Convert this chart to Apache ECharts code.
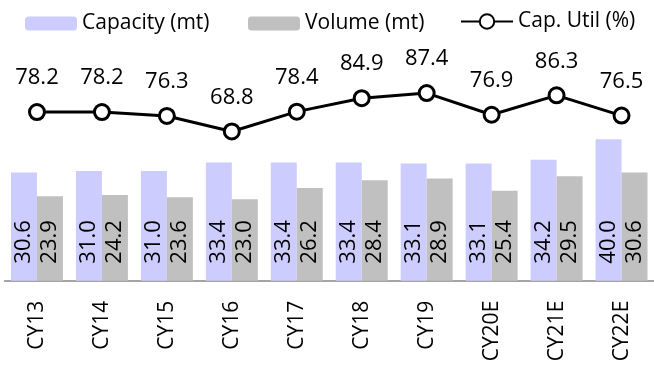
<!DOCTYPE html>
<html>
<head>
<meta charset="utf-8">
<script src="https://cdn.jsdelivr.net/npm/echarts@6/dist/echarts.min.js"></script>
<style>
  html, body { margin: 0; padding: 0; background: #fff; }
  #chart { width: 654px; height: 367px; }
</style>
</head>
<body>
<div id="chart"></div>
<script>
// Annual capacity, volume and utilisation
const years = ['CY13', 'CY14', 'CY15', 'CY16', 'CY17', 'CY18', 'CY19', 'CY20E', 'CY21E', 'CY22E'];
const capacity = [30.6, 31.0, 31.0, 33.4, 33.4, 33.4, 33.1, 33.1, 34.2, 40.0];
const volume = [23.9, 24.2, 23.6, 23.0, 26.2, 28.4, 28.9, 25.4, 29.5, 30.6];
const capUtil = [78.2, 78.2, 76.3, 68.8, 78.4, 84.9, 87.4, 76.9, 86.3, 76.5];

const FONT = '"Open Sans", "Noto Sans", sans-serif';
const chart = echarts.init(document.getElementById('chart'));

const barLabel = {
  show: true,
  position: 'insideBottom',
  rotate: 90,
  align: 'left',
  verticalAlign: 'middle',
  distance: 17,
  color: '#000',
  fontFamily: FONT,
  fontSize: 22,
  formatter: p => p.value.toFixed(1)
};

const legendText = { color: '#000', fontFamily: FONT, fontSize: 21 };
const legendBase = { padding: 0, itemWidth: 52, itemGap: 0, textStyle: legendText };

chart.setOption({
  animation: false,
  legend: [
    Object.assign({ data: ['Capacity (mt)'], left: 25, top: 13, itemHeight: 14 }, legendBase),
    Object.assign({ data: ['Volume (mt)'], left: 248, top: 13, itemHeight: 14 }, legendBase),
    Object.assign({ data: ['Cap. Util (%)'], left: 460, top: 11, itemHeight: 18 }, legendBase)
  ],
  grid: { left: 4.5, top: 33, width: 651, bottom: 86.3 },
  xAxis: {
    type: 'category',
    data: years,
    axisLine: { lineStyle: { color: '#888', width: 1.5 } },
    axisTick: { show: false },
    axisLabel: {
      rotate: 90,
      margin: 20,
      color: '#000',
      fontFamily: FONT,
      fontSize: 21,
      interval: 0
    }
  },
  yAxis: [
    { type: 'value', min: 0, max: 70, show: false, splitLine: { show: false } },
    { type: 'value', min: -3.5, max: 116.5, show: false, splitLine: { show: false } }
  ],
  series: [
    {
      name: 'Capacity (mt)',
      type: 'bar',
      data: capacity,
      barGap: '0%',
      barCategoryGap: '20%',
      itemStyle: { color: '#CCCCFF' },
      label: barLabel
    },
    {
      name: 'Volume (mt)',
      type: 'bar',
      data: volume,
      barGap: '0%',
      barCategoryGap: '20%',
      itemStyle: { color: '#C0C0C0' },
      label: barLabel
    },
    {
      name: 'Cap. Util (%)',
      type: 'line',
      yAxisIndex: 1,
      data: capUtil,
      symbol: 'circle',
      symbolSize: 15,
      lineStyle: { color: '#000', width: 3 },
      itemStyle: { color: '#fff', borderColor: '#000', borderWidth: 3 },
      label: {
        show: true,
        position: 'top',
        distance: 14,
        color: '#000',
        fontFamily: FONT,
        fontSize: 22,
        formatter: p => p.value.toFixed(1)
      },
      z: 5
    }
  ]
});
</script>
</body>
</html>
